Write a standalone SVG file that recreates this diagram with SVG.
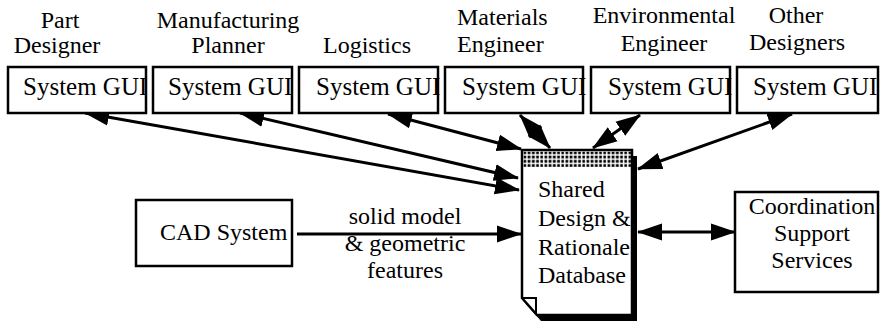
<svg xmlns="http://www.w3.org/2000/svg" width="882" height="324" viewBox="0 0 882 324">
<style>
text{font-family:"Liberation Serif","Times New Roman",serif;font-size:24px;fill:#000}
.c{text-anchor:middle}
.g{font-size:25px}
.box{fill:#fff;stroke:#000;stroke-width:2.5}
.ln{fill:none;stroke:#000;stroke-width:3}
.bi{marker-start:url(#ah);marker-end:url(#ah)}
.uni{marker-end:url(#ah)}
</style>
<defs>
<marker id="ah" markerUnits="userSpaceOnUse" markerWidth="25" markerHeight="18" refX="24" refY="9" orient="auto-start-reverse" viewBox="0 0 25 18">
<path d="M0,0.5 L25,9 L0,17.5 Z" fill="#000"/>
</marker>
<pattern id="dots" patternUnits="userSpaceOnUse" width="4.2" height="4.2" x="523" y="151">
<rect x="0.5" y="0.5" width="2.7" height="2.7" fill="#000"/>
</pattern>
</defs>
<rect width="882" height="324" fill="#fff"/>

<g id="labels">
<text class="c" x="60" y="28">Part</text>
<text class="c" x="57" y="53">Designer</text>
<text class="c" x="228" y="28">Manufacturing</text>
<text class="c" x="228" y="53">Planner</text>
<text class="c" x="367" y="53">Logistics</text>
<text x="457" y="25">Materials</text>
<text x="457" y="52">Engineer</text>
<text class="c" x="664" y="23">Environmental</text>
<text class="c" x="664" y="51">Engineer</text>
<text class="c" x="796" y="23">Other</text>
<text class="c" x="797" y="50">Designers</text>
</g>

<g id="connectors">
<line class="ln bi" x1="85" y1="113" x2="519" y2="190"/>
<line class="ln bi" x1="240" y1="113" x2="518" y2="178"/>
<line class="ln bi" x1="388" y1="114" x2="521" y2="149"/>
<line class="ln bi" x1="520" y1="115" x2="550" y2="148"/>
<line class="ln bi" x1="640" y1="115" x2="593" y2="148"/>
<line class="ln bi" x1="792" y1="114" x2="638" y2="169"/>
<line class="ln uni" x1="297" y1="234" x2="521" y2="234"/>
<line class="ln bi" x1="638" y1="232" x2="735" y2="232"/>
</g>

<g id="gui-part-designer">
<rect class="box" x="8" y="67" width="138" height="46"/>
<text class="g" x="23" y="95">System GUI</text>
</g>
<g id="gui-manufacturing-planner">
<rect class="box" x="153" y="67" width="139" height="46"/>
<text class="g" x="168" y="95">System GUI</text>
</g>
<g id="gui-logistics">
<rect class="box" x="299" y="67" width="139" height="46"/>
<text class="g" x="316" y="95">System GUI</text>
</g>
<g id="gui-materials-engineer">
<rect class="box" x="445" y="67" width="138" height="46"/>
<text class="g" x="462" y="95">System GUI</text>
</g>
<g id="gui-environmental-engineer">
<rect class="box" x="591" y="67" width="139" height="46"/>
<text class="g" x="608" y="95">System GUI</text>
</g>
<g id="gui-other-designers">
<rect class="box" x="737" y="67" width="141" height="46"/>
<text class="g" x="753" y="95">System GUI</text>
</g>

<g id="database">
<path d="M526,156 H637 V321 H541 L526,304 Z" fill="#000"/>
<path d="M522,150 H632 V315 H537 L522,298 Z" fill="#fff" stroke="#000" stroke-width="2.5"/>
<rect x="523.5" y="151.5" width="107.5" height="15.5" fill="url(#dots)"/>
<path d="M522,298 H536 V314" fill="none" stroke="#000" stroke-width="2"/>
<text x="538" y="197">Shared</text>
<text x="538" y="226">Design &amp;</text>
<text x="538" y="255">Rationale</text>
<text x="538" y="283">Database</text>
</g>

<g id="cad-system">
<rect class="box" x="136" y="200" width="156" height="66"/>
<text x="160" y="240">CAD System</text>
</g>

<g id="edge-label">
<text class="c" x="405" y="224">solid model</text>
<text class="c" x="405" y="251">&amp; geometric</text>
<text class="c" x="405" y="278">features</text>
</g>

<g id="coordination">
<rect class="box" x="735" y="192" width="143" height="100"/>
<text class="c" x="812" y="214">Coordination</text>
<text class="c" x="812" y="241">Support</text>
<text class="c" x="812" y="268">Services</text>
</g>
</svg>
